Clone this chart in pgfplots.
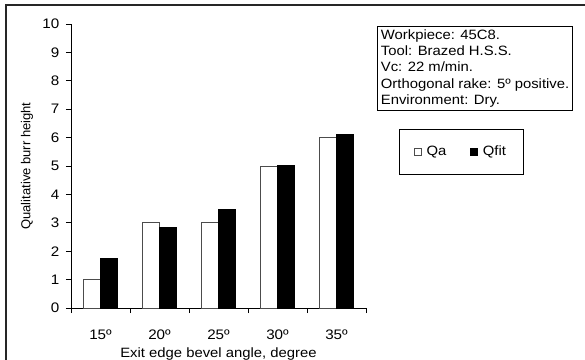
\documentclass[border=0pt]{standalone}
\usepackage{pgfplots}
\pgfplotsset{compat=1.18}
\usepackage{fontspec}
\setmainfont{Liberation Sans}[FakeStretch=1.1]
\newfontfamily\ylabfont{Liberation Sans}
\begin{document}
\fontsize{13.5bp}{16.3bp}\selectfont
\begin{tikzpicture}
\path[use as bounding box] (-71bp,-52bp) rectangle (514bp,308bp);
\draw[line width=1.5bp, black!85] (-65bp,-60bp) -- (-65bp,303bp) -- (530bp,303bp);
\begin{axis}[
  scale only axis,
  width=295bp, height=284bp,
  xmin=-0.5, xmax=4.5, ymin=0, ymax=10,
  axis x line*=bottom, axis y line*=left,
  axis line style={black, line width=0.8bp},
  ybar=0pt, bar width=17bp,
  xtick={0,1,2,3,4},
  xticklabels={15º,20º,25º,30º,35º},
  minor xtick={-0.5,0.5,1.5,2.5,3.5,4.5},
  major x tick style={draw=none},
  minor tick length=5bp,
  major tick length=5bp,
  tick align=outside,
  tick style={black, line width=0.8bp},
  ytick={0,1,...,10},
  /pgf/number format/assume math mode=true,
  tick label style={font=\fontsize{13.8bp}{16bp}\selectfont},
  xticklabel style={anchor=base, yshift=-26bp},
  yticklabel style={xshift=-2bp},
  xlabel={Exit edge bevel angle, degree},
  xlabel style={at={(axis description cs:0.5,0)}, anchor=base, yshift=-49.5bp},
  ylabel={\ylabfont\fontsize{13bp}{15bp}\selectfont Qualitative burr height},
  ylabel style={at={(axis description cs:0,0.5)}, anchor=center, yshift=44bp},
  legend columns=2,
  legend style={at={(axis description cs:1.322,0.55)}, anchor=center,
    draw=black, line width=0.8bp, inner xsep=15bp, inner ysep=15bp,
    font=\fontsize{13.5bp}{16bp}\selectfont,
    /tikz/every odd column/.append style={column sep=3bp},
    /tikz/every even column/.append style={column sep=22bp}},
  legend image code/.code={\draw[#1, line width=0.6bp] (0bp,-3.5bp) rectangle (7bp,3.5bp);},
  clip=false,
]
\addplot[fill=white, draw=black!70, line width=0.8bp] coordinates {(0,1) (1,3) (2,3) (3,5) (4,6)};
\addplot[fill=black, draw=black, line width=0.8bp] coordinates {(0,1.76) (1,2.85) (2,3.48) (3,5.03) (4,6.1)};
\legend{Qa, Qfit}
\node[draw=black, line width=0.8bp, anchor=north west, align=left, inner xsep=3.5bp, inner ysep=3bp,
  font=\fontsize{13.5bp}{16.3bp}\selectfont]
  at (axis description cs:1.0373,0.993)
  {Workpiece: 45C8.\\Tool: Brazed H.S.S.\\Vc: 22 m/min.\\Orthogonal rake: 5º positive.\\Environment: Dry.};
\end{axis}
\end{tikzpicture}
\end{document}
